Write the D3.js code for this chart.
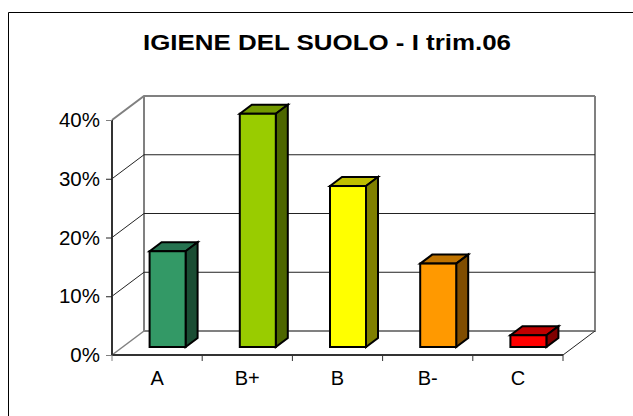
<!DOCTYPE html>
<html>
<head>
<meta charset="utf-8">
<script src="https://cdnjs.cloudflare.com/ajax/libs/d3/7.8.5/d3.min.js"></script>
<style>
  html, body { margin: 0; padding: 0; background: #fff; }
  svg { display: block; }
  text { font-family: "Liberation Sans", Arial, sans-serif; fill: #000; }
</style>
</head>
<body>
<div id="chart"></div>
<script>
var categories = ["A", "B+", "B", "B-", "C"];
var values = [16.3, 39.7, 27.4, 14.2, 2.0];
var yTicks = [0, 10, 20, 30, 40];
var chartTitle = "IGIENE DEL SUOLO - I trim.06";

var front = ["#339966", "#99cc00", "#ffff00", "#ff9900", "#ff0000"];
var top_ = ["#267350", "#739900", "#bfbf00", "#bf7300", "#bf0000"];
var side = ["#1a4d33", "#4d6600", "#808000", "#804d00", "#800000"];

var svg = d3.select("#chart").append("svg")
    .attr("width", 633)
    .attr("height", 416);

// outer frame, the picture is cropped on the right and at the bottom
svg.append("path")
    .attr("d", "M8.5,416V12.5H633")
    .attr("fill", "none")
    .attr("stroke", "#000");

svg.append("text")
    .attr("x", 327).attr("y", 49.5)
    .attr("text-anchor", "middle")
    .attr("font-size", 22.5)
    .attr("font-weight", "bold")
    .attr("textLength", 368)
    .attr("lengthAdjust", "spacingAndGlyphs")
    .text(chartTitle);

var x = d3.scaleBand().domain(categories).range([112, 563]);
var y = d3.scaleLinear().domain([0, 40]).range([355, 120]);

// depth of the floor and of the bars
var dx = 32, dy = -24;
var barDx = 12, barDy = -9;
var barW = 36;
var barShiftX = 10.5, barShiftY = -8;

// back wall
svg.append("path")
    .attr("d", "M" + (112 + dx) + "," + (y(40) + dy) + "V" + (y(0) + dy) + "H" + (563 + dx) + "V" + (y(40) + dy))
    .attr("fill", "none").attr("stroke", "#808080").attr("stroke-width", 2);
svg.append("path")
    .attr("d", "M112," + y(0) + "L" + (112 + dx) + "," + (y(0) + dy))
    .attr("fill", "none").attr("stroke", "#808080").attr("stroke-width", 1.5);
svg.append("path")
    .attr("d", "M563," + y(0) + "L" + (563 + dx) + "," + (y(0) + dy))
    .attr("fill", "none").attr("stroke", "#222");

// gridlines on wall and side
var grid = svg.append("g");
yTicks.forEach(function(t) {
  if (t === 0) return;
  grid.append("path")
      .attr("d", "M112," + y(t) + "L" + (112 + dx) + "," + (y(t) + dy) + "H" + (563 + dx))
      .attr("fill", "none")
      .attr("stroke", t === 40 ? "#808080" : "#222")
      .attr("stroke-width", t === 40 ? 2 : 1);
});

// bars
var bars = svg.selectAll(".bar").data(values).enter().append("g").attr("class", "bar");
bars.each(function(d, i) {
  var g = d3.select(this);
  var cat = categories[i];
  var x0 = x(cat) + (x.bandwidth() - barW) / 2 + barShiftX;
  var x1 = x0 + barW;
  var y0 = y(0) + barShiftY;
  var yt = y(d) + barShiftY;
  g.append("path")
      .attr("d", "M" + x0 + "," + yt + "l" + barDx + "," + barDy + "h" + barW + "l" + (-barDx) + "," + (-barDy) + "Z")
      .attr("fill", top_[i]);
  g.append("path")
      .attr("d", "M" + x1 + "," + yt + "l" + barDx + "," + barDy + "V" + (y0 + barDy) + "l" + (-barDx) + "," + (-barDy) + "Z")
      .attr("fill", side[i]);
  g.append("rect")
      .attr("x", x0).attr("y", yt)
      .attr("width", barW).attr("height", y0 - yt)
      .attr("fill", front[i]);
  g.selectAll("path,rect")
      .attr("stroke", "#000")
      .attr("stroke-width", 2)
      .attr("stroke-linejoin", "miter");
});

// axes
var yAxis = d3.axisLeft(y).tickValues(yTicks).tickFormat(function(d) { return d + "%"; }).tickSize(6).tickPadding(6);
var gy = svg.append("g").attr("transform", "translate(112,0)").call(yAxis);
gy.selectAll("text").style("font-size", "20.5px");
gy.selectAll("line").attr("stroke", function(d) { return (d === 0 || d === 40) ? "#808080" : "#222"; });
gy.select(".domain").attr("stroke", "#333").attr("stroke-width", 2).attr("d", "M0," + y(40) + "V" + y(0));

var xAxis = d3.axisBottom(x).tickSize(0).tickPadding(16);
var gx = svg.append("g").attr("transform", "translate(0,355)").call(xAxis);
gx.selectAll("text").style("font-size", "20px");
gx.select(".domain").attr("stroke", "#333").attr("stroke-width", 2).attr("d", "M" + x.range()[0] + ",0H" + x.range()[1]);
// tick marks sit between categories in this chart
d3.range(categories.length + 1).forEach(function(i) {
  var tx = x.range()[0] + i * x.bandwidth();
  gx.append("line").attr("x1", tx).attr("x2", tx).attr("y1", 0).attr("y2", 6)
      .attr("stroke", i === 0 ? "#808080" : "#333");
});
</script>
</body>
</html>
